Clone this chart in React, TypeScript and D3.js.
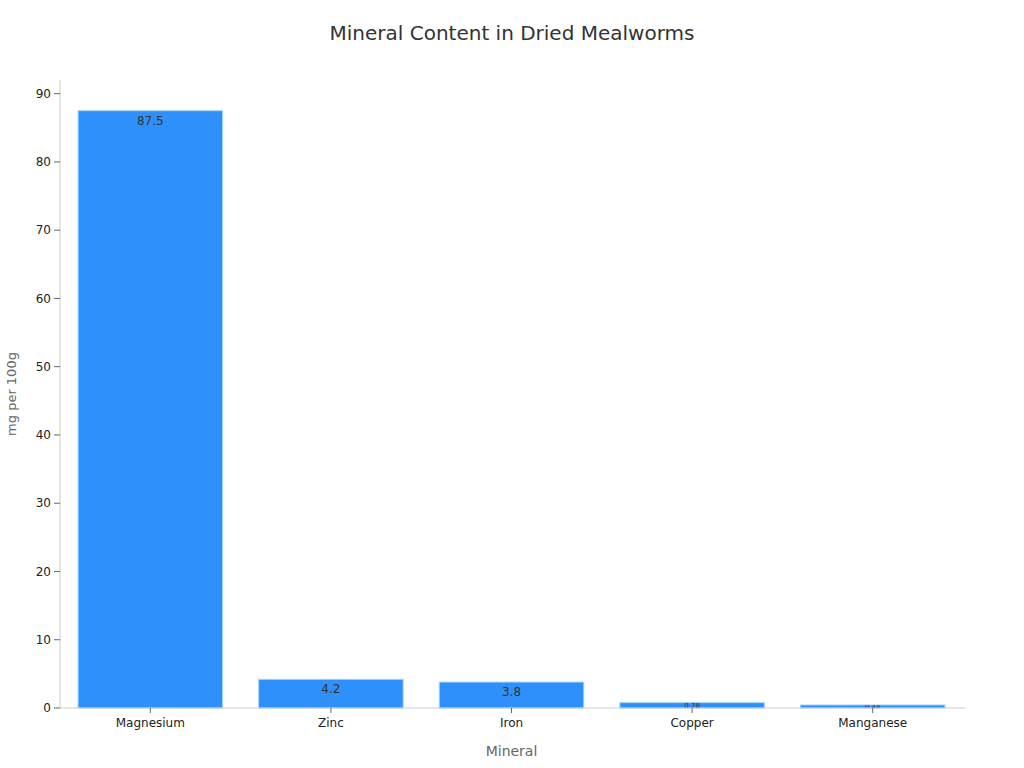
import React from "react";
import * as d3 from "d3";

const minerals = ["Magnesium", "Zinc", "Iron", "Copper", "Manganese"];
const amounts = [87.5, 4.2, 3.8, 0.78, 0.44];
const yTicks = [0, 10, 20, 30, 40, 50, 60, 70, 80, 90];

const W = 1024;
const H = 768;
const margin = { top: 80, right: 61, bottom: 60, left: 60 };
const FONT = "DejaVu Sans, sans-serif";

export default function App() {
  const innerW = W - margin.left - margin.right;
  const innerH = H - margin.top - margin.bottom;

  const x = d3.scaleBand<string>().domain(minerals).range([0, innerW]).paddingInner(0.2).paddingOuter(0.1);
  const y = d3.scaleLinear().domain([0, 92]).range([innerH, 0]);

  return (
    <svg width={W} height={H} style={{ display: "block", position: "absolute", left: 0, top: 0 }} fontFamily={FONT}>
      <rect width={W} height={H} fill="#fff" />
      <text x={512} y={40} textAnchor="middle" fontSize={20} fill="#333">
        Mineral Content in Dried Mealworms
      </text>

      <g transform={`translate(${margin.left},${margin.top})`}>
        <defs>
          {minerals.map((m, i) => (
            <clipPath key={m} id={`clip-${i}`}>
              <rect x={x(m)} y={y(amounts[i])} width={x.bandwidth()} height={innerH - y(amounts[i])} />
            </clipPath>
          ))}
        </defs>
        {/* bars */}
        {minerals.map((m, i) => {
          const v = amounts[i];
          const top = y(v);
          const small = v < 1;
          return (
            <g key={m}>
              <rect
                x={x(m)}
                y={top}
                width={x.bandwidth()}
                height={innerH - top}
                fill="#2e90fa"
                stroke="#9fd0ff"
                strokeWidth={1}
              />
              <text
                clipPath={`url(#clip-${i})`}
                x={(x(m) || 0) + x.bandwidth() / 2}
                y={small ? (top + innerH) / 2 : top + 14}
                dy={small ? "0.35em" : 0}
                textAnchor="middle"
                fontSize={small ? 7 : 12}
                fill="#333"
              >
                {v}
              </text>
            </g>
          );
        })}

        {/* y axis */}
        <line x1={0} x2={0} y1={0} y2={innerH} stroke="#ccc" />
        {yTicks.map((t) => (
          <g key={t} transform={`translate(0,${y(t)})`}>
            <line x1={-6} x2={0} stroke="#666" />
            <text x={-9} dy="0.35em" textAnchor="end" fontSize={12} fill="#222">
              {t}
            </text>
          </g>
        ))}

        {/* x axis */}
        <line x1={0} x2={innerW + 2} y1={innerH} y2={innerH} stroke="#ccc" />
        {minerals.map((m) => {
          const cx = (x(m) || 0) + x.bandwidth() / 2;
          return (
            <g key={m} transform={`translate(${cx},${innerH})`}>
              <line y1={0} y2={5} stroke="#666" />
              <text y={19} textAnchor="middle" fontSize={12} fill="#222">
                {m}
              </text>
            </g>
          );
        })}

        <text x={innerW / 2} y={innerH + 48} textAnchor="middle" fontSize={14} fill="#666">
          Mineral
        </text>
        <text
          transform={`translate(${-44},${innerH / 2}) rotate(-90)`}
          textAnchor="middle"
          fontSize={13}
          fill="#666"
        >
          mg per 100g
        </text>
      </g>
    </svg>
  );
}
